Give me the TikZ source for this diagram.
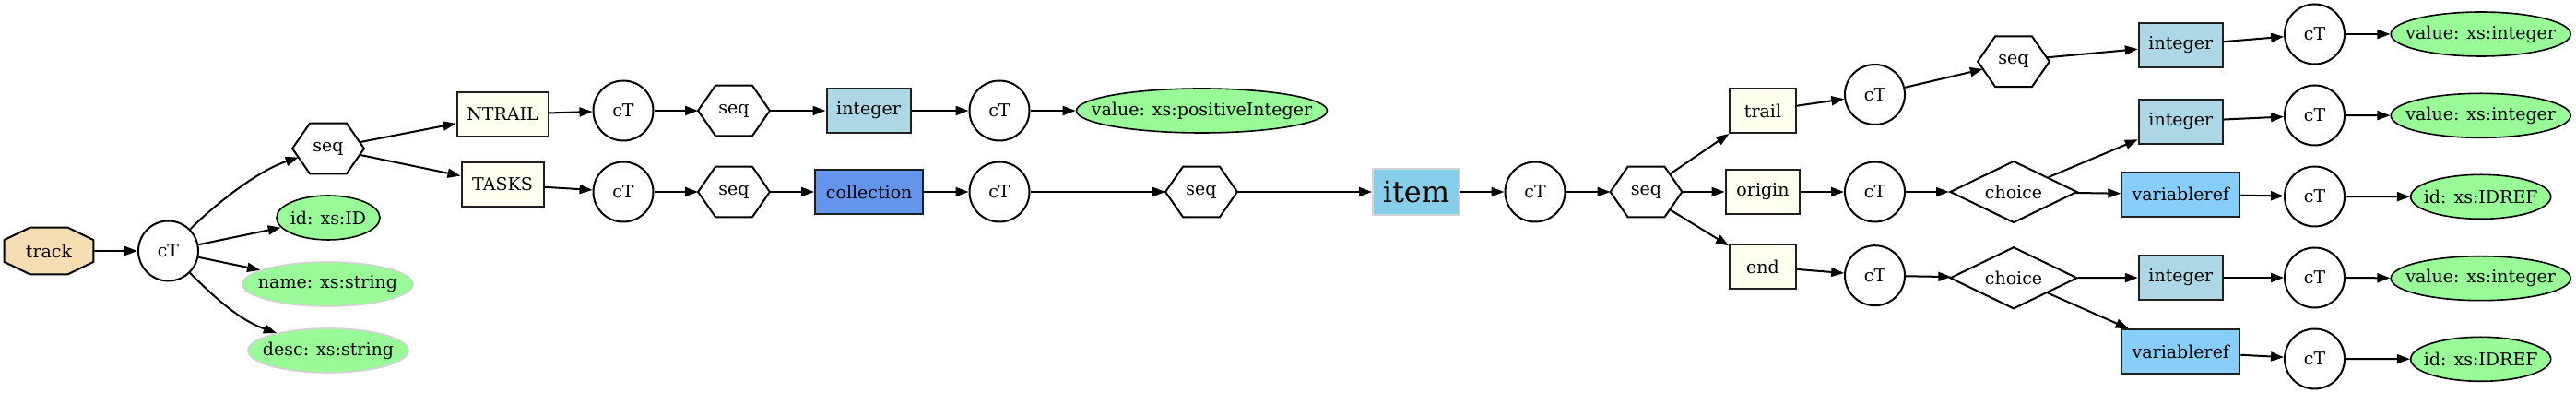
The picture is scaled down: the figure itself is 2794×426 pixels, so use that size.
\documentclass[tikz,border=0pt]{standalone}
\usepackage{fontspec}
\setmainfont{DejaVu Serif}
\usetikzlibrary{arrows.meta,shapes.geometric,calc}
\definecolor{wheatc}{HTML}{F5DEB3}
\definecolor{ivoryc}{HTML}{FFFFF0}
\definecolor{lightbluec}{HTML}{ADD8E6}
\definecolor{cornflowerc}{HTML}{6495ED}
\definecolor{skybluec}{HTML}{87CEEB}
\definecolor{lskyc}{HTML}{87CEFA}
\definecolor{palegc}{HTML}{98FB98}
\definecolor{lgrayc}{HTML}{D3D3D3}
\newcommand\zt[1]{\makebox[0pt]{#1}}
\newcommand\drawhex[1]{%
  \coordinate (#1-ur) at ([xshift=-9.5pt]#1.north east);
  \coordinate (#1-ul) at ([xshift=9.5pt]#1.north west);
  \coordinate (#1-lr) at ([xshift=-9.5pt]#1.south east);
  \coordinate (#1-ll) at ([xshift=9.5pt]#1.south west);
  \draw[line width=1pt] (#1.west) -- (#1-ul) -- (#1-ur) -- (#1.east) -- (#1-lr) -- (#1-ll) -- cycle;}
\tikzset{
  lbl/.style={font=\fontsize{9.5}{11}\selectfont, text=black},
  ctn/.style={circle, draw, line width=1pt, minimum size=32.5pt, inner sep=0pt, lbl},
  hexn/.style={rectangle, draw=none, minimum width=38.5pt, minimum height=27pt, inner sep=0pt, lbl},
  boxn/.style={rectangle, draw=black!88, line width=1pt, minimum height=24pt, inner sep=0pt, lbl},
  elemn/.style={boxn, fill=ivoryc},
  intn/.style={boxn, fill=lightbluec, minimum width=45.5pt},
  varn/.style={boxn, fill=lskyc, minimum width=64pt},
  attrn/.style={ellipse, draw, line width=0.8pt, fill=palegc, minimum height=24pt, inner sep=0pt, lbl},
  attro/.style={attrn, draw=lgrayc},
  choicen/.style={diamond, draw, line width=1pt, minimum width=69pt, minimum height=33.5pt, inner sep=0pt, aspect=2, lbl},
  conn/.style={line width=1pt, -{Triangle[length=7pt,width=5pt]}},
}
\begin{document}
\begin{tikzpicture}[x=0.5pt,y=-0.5pt]
\fill[white] (0,0) rectangle (2794,426);
\useasboundingbox (0,0) rectangle (2794,426);
% nodes
\node[rectangle, draw=none, fill=none, minimum width=48pt, minimum height=25pt, inner sep=0pt, lbl] (track) at (53,272) {};
\fill[wheatc, draw=black, line width=1pt]
  ([xshift=14pt]track.north west) -- ([xshift=-14pt]track.north east) -- ([yshift=-6.75pt]track.north east)
  -- ([yshift=6.75pt]track.south east) -- ([xshift=-14pt]track.south east) -- ([xshift=14pt]track.south west)
  -- ([yshift=6.75pt]track.south west) -- ([yshift=-6.75pt]track.north west) -- cycle;
\node[lbl] at (track) {track};
\node[ctn] (c0) at (182.5,272) {cT};
\node[hexn] (sA) at (356,161) {seq};
\node[attrn, minimum width=56pt] (aid) at (356,236) {\zt{id: xs:ID}};
\node[attro, minimum width=92.5pt] (aname) at (355.5,308) {\zt{name: xs:string}};
\node[attro, minimum width=87pt] (adesc) at (356,380) {\zt{desc: xs:string}};
\node[elemn, minimum width=49.5pt] (ntrail) at (545,124) {NTRAIL};
\node[elemn, minimum width=44.5pt] (tasks) at (545,200) {TASKS};
\node[ctn] (c1) at (676,120) {cT};
\node[hexn] (s1) at (796,120) {seq};
\node[intn] (i1) at (942,120) {integer};
\node[ctn] (c2) at (1084,120) {cT};
\node[attrn, minimum width=136pt] (vpos) at (1303.5,120) {\zt{value: xs:positiveInteger}};
\node[ctn] (c3) at (676,208) {cT};
\node[hexn] (s3) at (796,208) {seq};
\node[boxn, fill=cornflowerc, minimum width=58.5pt] (coll) at (942.7,208) {collection};
\node[ctn] (c4) at (1084,208) {cT};
\node[hexn] (s4) at (1303,208) {seq};
\node[rectangle, draw=lgrayc, line width=1pt, fill=skybluec, minimum width=47pt, minimum height=25pt, inner sep=0pt, font=\fontsize{16}{18}\selectfont] (item) at (1536,208) {item};
\node[ctn] (c5) at (1665,208) {cT};
\node[hexn] (s5) at (1785.5,208) {seq};
\node[elemn, minimum width=36pt] (trail) at (1912,120) {trail};
\node[elemn, minimum width=40.3pt] (origin) at (1912,208) {origin};
\node[elemn, minimum width=36pt] (endn) at (1912,289) {end};
\node[ctn] (c6) at (2033.5,102.5) {cT};
\node[hexn] (s6) at (2184,66.7) {seq};
\node[ctn] (c7) at (2033.5,208) {cT};
\node[choicen] (ch1) at (2184,208) {choice};
\node[ctn] (c8) at (2033.5,298.7) {cT};
\node[choicen] (ch2) at (2184,301.3) {choice};
\node[intn] (iA) at (2365.3,49) {integer};
\node[ctn] (cA) at (2510.5,37) {cT};
\node[attrn, minimum width=97.5pt] (vA) at (2690.7,37) {\zt{value: xs:integer}};
\node[intn] (iB) at (2365.3,131.7) {integer};
\node[ctn] (cB) at (2510.5,125) {cT};
\node[attrn, minimum width=97.5pt] (vB) at (2690.7,125.3) {\zt{value: xs:integer}};
\node[varn] (vrC) at (2365.3,210.7) {variableref};
\node[ctn] (cC) at (2510.5,213) {cT};
\node[attrn, minimum width=76pt] (idC) at (2690.7,213.3) {\zt{id: xs:IDREF}};
\node[intn] (iD) at (2365.3,301) {integer};
\node[ctn] (cD) at (2510.5,301) {cT};
\node[attrn, minimum width=97.5pt] (vD) at (2690.7,301.7) {\zt{value: xs:integer}};
\node[varn] (vrE) at (2365.3,381.3) {variableref};
\node[ctn] (cE) at (2510.5,389) {cT};
\node[attrn, minimum width=76pt] (idE) at (2690.7,389.3) {\zt{id: xs:IDREF}};
% hexagon outlines
\drawhex{sA}\drawhex{s1}\drawhex{s3}\drawhex{s4}\drawhex{s5}\drawhex{s6}
% connectors
\draw[conn] (track) -- (c0);
\draw[conn] (c0) .. controls (235,220) and (280,185) .. ($(sA.west)!0.35!(sA-ll)$);
\draw[conn] (c0) -- (aid);
\draw[conn] (c0) -- (aname);
\draw[conn] (c0) .. controls (235,325) and (262,348) .. (adesc);
\draw[conn] ($(sA.east)!0.25!(sA-ur)$) -- (ntrail);
\draw[conn] ($(sA.east)!0.25!(sA-lr)$) -- (tasks);
\draw[conn] (ntrail) -- (c1);
\draw[conn] (c1) -- (s1.west);
\draw[conn] (s1.east) -- (i1);
\draw[conn] (i1) -- (c2);
\draw[conn] (c2) -- (vpos);
\draw[conn] (tasks) -- (c3);
\draw[conn] (c3) -- (s3.west);
\draw[conn] (s3.east) -- (coll);
\draw[conn] (coll) -- (c4);
\draw[conn] (c4) -- (s4.west);
\draw[conn] (s4.east) -- (item);
\draw[conn] (item) -- (c5);
\draw[conn] (c5) -- (s5.west);
\draw[conn] ($(s5.east)!0.7!(s5-ur)$) -- (trail);
\draw[conn] (s5.east) -- (origin);
\draw[conn] ($(s5.east)!0.7!(s5-lr)$) -- (endn);
\draw[conn] (trail) -- (c6);
\draw[conn] (c6) -- ($(s6.west)!0.3!(s6-ll)$);
\draw[conn] ($(s6.east)!0.16!(s6-ur)$) -- (iA);
\draw[conn] (iA) -- (cA);
\draw[conn] (cA) -- (vA);
\draw[conn] (origin) -- (c7);
\draw[conn] (c7) -- (ch1);
\draw[conn] (ch1) -- (iB);
\draw[conn] (ch1) -- (vrC);
\draw[conn] (iB) -- (cB);
\draw[conn] (cB) -- (vB);
\draw[conn] (vrC) -- (cC);
\draw[conn] (cC) -- (idC);
\draw[conn] (endn) -- (c8);
\draw[conn] (c8) -- (ch2);
\draw[conn] (ch2) -- (iD);
\draw[conn] (ch2) -- (vrE);
\draw[conn] (iD) -- (cD);
\draw[conn] (cD) -- (vD);
\draw[conn] (vrE) -- (cE);
\draw[conn] (cE) -- (idE);
\end{tikzpicture}
\end{document}
